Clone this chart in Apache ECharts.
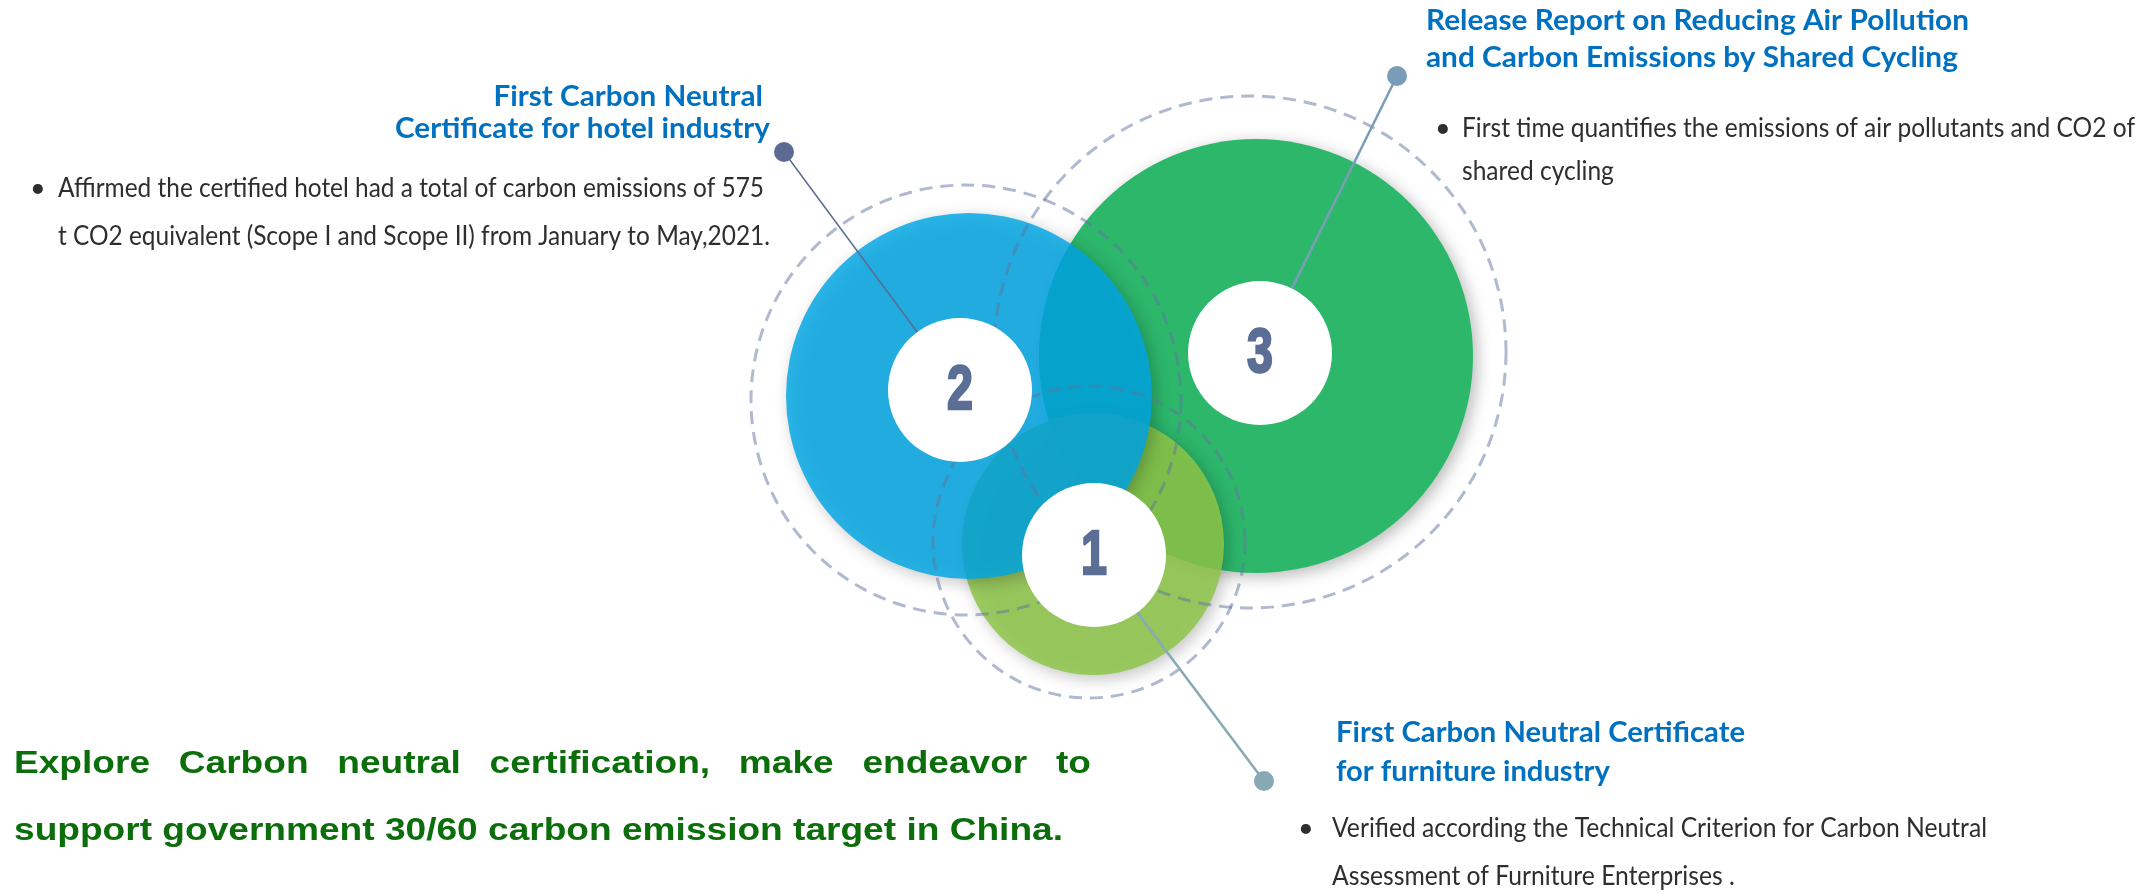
<!DOCTYPE html>
<html><head><meta charset="utf-8">
<script src="https://cdn.jsdelivr.net/npm/echarts@6/dist/echarts.min.js"></script>
<style>html,body{margin:0;padding:0;background:#fff}#c{width:2154px;height:893px}</style>
</head><body><div id="c"></div>
<script>
// ---- data ----
const labels = ['1', '2', '3'];
const discX = [1093, 969, 1256];
const discY = [544, 396, 356];
const discR = [131, 183, 217];
const ringX = [1089, 966, 1250];
const ringY = [542, 400, 352];
const ringR = [156, 215, 256];
const holeX = [1094, 960, 1260];
const holeY = [555, 390, 353];
const holeR = [72, 72, 72];
const dotX = [1264, 784, 1397];
const dotY = [781, 152, 76];

const titles = [
  ['First Carbon Neutral Certificate', 'for furniture industry'],
  ['First Carbon Neutral ', 'Certificate for hotel industry'],
  ['Release Report on Reducing Air Pollution', 'and Carbon Emissions by Shared Cycling']
];
const bodies = [
  ['Verified according the Technical Criterion for Carbon Neutral', 'Assessment of Furniture Enterprises .'],
  ['Affirmed the certified hotel had a total of carbon emissions of 575', 't CO2 equivalent (Scope I and Scope II) from January to May,2021.'],
  ['First time quantifies the emissions of air pollutants and CO2 of', 'shared cycling']
];
const slogan = [
  'Explore Carbon neutral certification, make endeavor to',
  'support government 30/60 carbon emission target in China.'
];

// ---- styles ----
const discColors = ['rgba(141,198,73,0.85)', 'rgba(0,166,228,0.83)', '#2cb76b'];
const discOrder = [2, 3, 1];
const lineColors = ['#86a9b4', '#5b6b92', '#7a9db7'];
const lineWidths = [2.5, 1.5, 2.5];
const digitColor = '#5b6e96';

const blocks = [
  { align: 'left', titleX: 1336, titleBase: [743, 782], titleW: 409, bulletX: 1298, bodyX: 1332, bodyBase: [838, 886], bodyW: 655 },
  { align: 'right', titleX: 770, titleBase: [107, 139], titleW: 375, bulletX: 30, bodyX: 58, bodyBase: [198, 246], bodyW: 712 },
  { align: 'left', titleX: 1426, titleBase: [31, 68], titleW: 543, bulletX: 1435, bodyX: 1462, bodyBase: [138, 181], bodyW: 673 }
];

const ctx = document.createElement('canvas').getContext('2d');
function measure(t, f) { ctx.font = f; return ctx.measureText(t).width; }

const titleFont = 'bold 28px Lato, "Open Sans", sans-serif';
const bodyFont = '27px Lato, "Open Sans", sans-serif';
const sloganFont = 'bold 31px "Liberation Sans", Arial, sans-serif';

function txt(x, base, text, font, fill, align, capH) {
  return { type: 'text', x: x, y: base - capH / 2,
    style: { text: text, font: font, fill: fill, textAlign: align, textVerticalAlign: 'middle', align: align, verticalAlign: 'middle' } };
}

const graphics = [];
blocks.forEach((b, i) => {
  const tw = Math.max.apply(null, titles[i].map(t => measure(t, titleFont)));
  graphics.push({ type: 'group', x: b.titleX, y: 0, scaleX: b.titleW / tw, silent: true,
    children: titles[i].map((t, k) => txt(0, b.titleBase[k], t, titleFont, '#0070c0', b.align, 20)) });
  const bw = Math.max.apply(null, bodies[i].map(t => measure(t, bodyFont)));
  graphics.push({ type: 'group', x: b.bodyX, y: 0, scaleX: b.bodyW / bw, silent: true,
    children: bodies[i].map((t, k) => txt(0, b.bodyBase[k], t, bodyFont, '#2e2e2e', 'left', 19)) });
  graphics.push(txt(b.bulletX, b.bodyBase[0], '\u2022', bodyFont, '#2e2e2e', 'left', 19));
});

// slogan: second line sets the stretch, first line justified
const sl2w = measure(slogan[1], sloganFont);
const sloganSx = (1063 - 14) / sl2w;
const words = slogan[0].split(' ');
const wsum = words.reduce((s, w) => s + measure(w, sloganFont), 0);
const gap = ((1091 - 14) / sloganSx - wsum) / (words.length - 1);
let wx = 0;
const line1 = words.map(w => { const e = txt(wx, 775, w, sloganFont, '#0b6e0b', 'left', 22); wx += measure(w, sloganFont) + gap; return e; });
graphics.push({ type: 'group', x: 14, y: 0, scaleX: sloganSx, silent: true,
  children: line1.concat([txt(0, 842, slogan[1], sloganFont, '#0b6e0b', 'left', 22)]) });

const chart = echarts.init(document.getElementById('c'), null, { renderer: 'canvas' });
const idx = labels.map((l, i) => i);

chart.setOption({
  animation: false,
  backgroundColor: '#ffffff',
  grid: { left: 0, right: 0, top: 0, bottom: 0 },
  xAxis: { type: 'value', min: 0, max: 2154, show: false },
  yAxis: { type: 'value', min: 0, max: 893, inverse: true, show: false },
  graphic: graphics,
  series: [
    { type: 'custom', name: 'discs', z: 2, silent: true,
      data: idx.map(i => [discX[i], discY[i], discR[i]]),
      renderItem: (p, api) => {
        const c = api.coord([api.value(0), api.value(1)]);
        const r = api.size([api.value(2), 0])[0];
        return { type: 'circle', z2: discOrder[p.dataIndex], shape: { cx: c[0], cy: c[1], r: r },
          style: { fill: discColors[p.dataIndex], shadowBlur: 16, shadowOffsetX: 4, shadowOffsetY: 4, shadowColor: 'rgba(0,0,0,0.28)' } };
      } },
    { type: 'custom', name: 'rings', z: 3, silent: true,
      data: idx.map(i => [ringX[i], ringY[i], ringR[i]]),
      renderItem: (p, api) => {
        const c = api.coord([api.value(0), api.value(1)]);
        const r = api.size([api.value(2), 0])[0];
        return { type: 'circle', shape: { cx: c[0], cy: c[1], r: r },
          style: { fill: 'none', stroke: 'rgba(95,115,160,0.5)', lineWidth: 3, lineDash: [13, 8] } };
      } },
    { type: 'custom', name: 'callouts', z: 4, silent: true,
      data: idx.map(i => [holeX[i], holeY[i], dotX[i], dotY[i]]),
      renderItem: (p, api) => {
        const a = api.coord([api.value(0), api.value(1)]);
        const b = api.coord([api.value(2), api.value(3)]);
        const col = lineColors[p.dataIndex];
        return { type: 'group', children: [
          { type: 'line', shape: { x1: a[0], y1: a[1], x2: b[0], y2: b[1] }, style: { stroke: col, lineWidth: lineWidths[p.dataIndex] } },
          { type: 'circle', shape: { cx: b[0], cy: b[1], r: 10 }, style: { fill: col } }
        ] };
      } },
    { type: 'custom', name: 'holes', z: 5, silent: true,
      data: idx.map(i => [holeX[i], holeY[i], holeR[i]]),
      renderItem: (p, api) => {
        const c = api.coord([api.value(0), api.value(1)]);
        const r = api.size([api.value(2), 0])[0];
        return { type: 'group', children: [
          { type: 'circle', shape: { cx: c[0], cy: c[1], r: r }, style: { fill: '#ffffff' } },
          { type: 'text', x: c[0], y: c[1] + 2, scaleX: 0.74, style: { text: labels[p.dataIndex], font: 'bold 63px "Liberation Sans", Arial, sans-serif',
            fill: digitColor, stroke: digitColor, lineWidth: 2.5, textAlign: 'center', textVerticalAlign: 'middle', align: 'center', verticalAlign: 'middle' } }
        ] };
      } }
  ]
});
</script></body></html>
